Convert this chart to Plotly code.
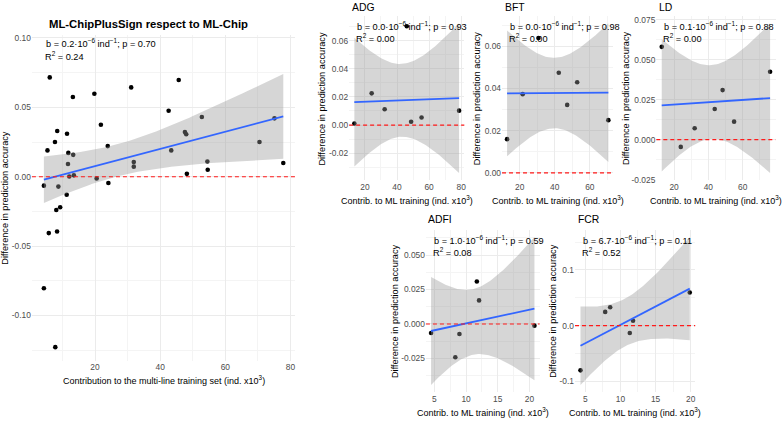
import numpy as np
import plotly.graph_objects as go

# ---------------- data ----------------
main_x = [4.3, 5.4, 6.1, 7.7, 8.4, 8.75, 8.1, 9.3, 11.4, 11.8, 11.7, 12.1, 11.3, 13.2,
          13.3, 13.5, 19.8, 20.5, 21.8, 23.9, 24.1, 31.1, 31.9, 31.9, 42.6, 43.4, 45.7,
          47.6, 48.0, 48.2, 52.8, 54.5, 54.6, 70.5, 75.1, 77.8, 5.8, 8.35, 4.3, 7.8]
main_y = [-0.0064, 0.019, 0.0716, 0.025, 0.033, -0.0071, -0.024, -0.022, 0.031, 0.0172,
          0.0092, 0.0002, -0.013, 0.0575, 0.0158, 0.001, 0.0598, -0.0012, 0.0375, 0.0221,
          -0.0045, 0.0644, 0.0106, 0.0073, 0.0476, 0.019, 0.0697, 0.0322, 0.0306, 0.0021,
          0.0431, 0.011, 0.005, 0.025, 0.0421, 0.0099, -0.0406, -0.0394, -0.0804, -0.1228]

adg_x = [13.4, 24.2, 32.3, 46.1, 48.8, 55.3, 78.7]
adg_y = [0.0011, 0.0225, 0.0112, 0.0702, 0.0023, 0.0053, 0.0102]

bft_x = [12.8, 21.7, 30.7, 42.3, 47.1, 52.8, 70.6]
bft_y = [0.016, 0.0373, 0.0639, 0.0474, 0.0322, 0.0429, 0.025]

ld_x = [12.8, 23.9, 32.0, 43.7, 48.3, 55.0, 76.0]
ld_y = [0.058, -0.0045, 0.0072, 0.0192, 0.031, 0.0113, 0.0425]

adfi_x = [4.47, 8.3, 8.95, 11.7, 12.05, 20.8]
adfi_y = [-0.0066, -0.0242, -0.0073, 0.0308, 0.0171, -0.0012]

fcr_x = [4.33, 7.84, 8.55, 11.34, 11.8, 19.86]
fcr_y = [-0.0803, 0.0246, 0.0329, -0.0134, 0.0088, 0.0593]

ref_value = 0.0

titles = ["ML-ChipPlusSign respect to ML-Chip", "ADG", "BFT", "LD", "ADFI", "FCR"]
stat_line1 = ["b = 0.2·10<sup>−6</sup> ind<sup>−1</sup>; p = 0.70",
              "b = 0.0·10<sup>−6</sup> ind<sup>−1</sup>; p = 0.93",
              "b = 0.0·10<sup>−6</sup> ind<sup>−1</sup>; p = 0.98",
              "b = 0.1·10<sup>−6</sup> ind<sup>−1</sup>; p = 0.88",
              "b = 1.0·10<sup>−6</sup> ind<sup>−1</sup>; p = 0.59",
              "b = 6.7·10<sup>−6</sup> ind<sup>−1</sup>; p = 0.11"]
stat_line2 = ["R<sup>2</sup> = 0.24", "R<sup>2</sup> = 0.00", "R<sup>2</sup> = 0.00",
              "R<sup>2</sup> = 0.00", "R<sup>2</sup> = 0.08", "R<sup>2</sup> = 0.52"]

main_xticks = [20, 40, 60, 80]
main_yticks = [-0.10, -0.05, 0.00, 0.05, 0.10]
main_yticklabels = ["-0.10", "-0.05", "0.00", "0.05", "0.10"]
adg_xticks = [20, 40, 60, 80]
adg_yticks = [-0.02, 0.00, 0.02, 0.04, 0.06]
adg_yticklabels = ["-0.02", "0.00", "0.02", "0.04", "0.06"]
bft_xticks = [20, 40, 60]
bft_yticks = [0.00, 0.02, 0.04, 0.06]
bft_yticklabels = ["0.00", "0.02", "0.04", "0.06"]
ld_xticks = [20, 40, 60]
ld_yticks = [-0.025, 0.0, 0.025, 0.05, 0.075]
ld_yticklabels = ["-0.025", "0.000", "0.025", "0.050", "0.075"]
adfi_xticks = [5, 10, 15, 20]
adfi_yticks = [-0.025, 0.0, 0.025, 0.05]
adfi_yticklabels = ["-0.025", "0.000", "0.025", "0.050"]
fcr_xticks = [5, 10, 15, 20]
fcr_yticks = [-0.1, 0.0, 0.1]
fcr_yticklabels = ["-0.1", "0.0", "0.1"]

main_xlabel = "Contribution to the multi-line training set (ind. x10<sup>3</sup>)"
small_xlabel = "Contrib. to ML training (ind. x10<sup>3</sup>)"
ylabel = "Difference in prediction accuracy"

# t critical values (97.5%) by degrees of freedom
T975 = {4: 2.776445, 5: 2.570582, 38: 2.024394}

W, H = 784, 421
FONT = "Liberation Sans, Arial, sans-serif"


def px_x(p):
    return p / W


def px_y(p):
    return 1 - p / H


def lm_fit(x, y, n_pts=80):
    x = np.asarray(x, float)
    y = np.asarray(y, float)
    n = len(x)
    A = np.vstack([np.ones(n), x]).T
    coef, *_ = np.linalg.lstsq(A, y, rcond=None)
    resid = y - A @ coef
    s = np.sqrt(np.sum(resid ** 2) / (n - 2))
    xs = np.linspace(x.min(), x.max(), n_pts)
    sxx = np.sum((x - x.mean()) ** 2)
    se = s * np.sqrt(1.0 / n + (xs - x.mean()) ** 2 / sxx)
    fit = coef[0] + coef[1] * xs
    t = T975[n - 2]
    return xs, fit, fit - t * se, fit + t * se


def expand(lo, hi, mult=0.05):
    d = (hi - lo) * mult
    return [lo - d, hi + d]


# panel geometry (pixels): x0, x1, y0(top), y1(bottom)
panels = [
    dict(x=main_x, y=main_y, px=(32, 296, 33, 364), xt=main_xticks, yt=main_yticks,
         ytl=main_yticklabels, xlab=main_xlabel, ytitle_x=5, ymax=0.1025),
    dict(x=adg_x, y=adg_y, px=(350, 465.5, 14, 181), xt=adg_xticks, yt=adg_yticks,
         ytl=adg_yticklabels, xlab=small_xlabel, ytitle_x=323.3),
    dict(x=bft_x, y=bft_y, px=(503.3, 615, 14, 181), xt=bft_xticks, yt=bft_yticks,
         ytl=bft_yticklabels, xlab=small_xlabel, ytitle_x=478.3),
    dict(x=ld_x, y=ld_y, px=(658, 777.5, 14, 181), xt=ld_xticks, yt=ld_yticks,
         ytl=ld_yticklabels, xlab=small_xlabel, ytitle_x=627.5),
    dict(x=adfi_x, y=adfi_y, px=(427, 541, 231, 396), xt=adfi_xticks, yt=adfi_yticks,
         ytl=adfi_yticklabels, xlab=small_xlabel, ytitle_x=396),
    dict(x=fcr_x, y=fcr_y, px=(576.5, 697, 231, 396), xt=fcr_xticks, yt=fcr_yticks,
         ytl=fcr_yticklabels, xlab=small_xlabel, ytitle_x=554.2),
]

fig = go.Figure()
layout = dict(width=W, height=H, margin=dict(l=0, r=0, t=0, b=0),
              paper_bgcolor="white", plot_bgcolor="white", showlegend=False,
              font=dict(family=FONT, color="black"), hovermode=False)
annotations = []
shapes = []

GRID = "#EBEBEB"
MINOR = "#F4F4F4"
TICKFONT = dict(family=FONT, size=8.4, color="#4D4D4D")


def minor_vals(ticks):
    t = list(ticks)
    step = t[1] - t[0]
    vals = [t[0] - step / 2] + [(a + b) / 2 for a, b in zip(t[:-1], t[1:])] + [t[-1] + step / 2]
    return vals


for i, p in enumerate(panels):
    k = "" if i == 0 else str(i + 1)
    xa, ya = "x" + k, "y" + k
    xs, fit, lo, hi = lm_fit(p["x"], p["y"])
    xr = expand(min(p["x"]), max(p["x"]))
    ylo = min(min(p["y"]), lo.min(), ref_value)
    yhi = max(max(p["y"]), hi.max(), ref_value)
    yr = expand(ylo, yhi)
    if "ymax" in p:
        yr[1] = p["ymax"]

    fig.add_trace(go.Scatter(x=p["x"], y=p["y"], mode="markers", xaxis=xa, yaxis=ya,
                             marker=dict(color="black", size=4.6), hoverinfo="skip"))
    fig.add_trace(go.Scatter(x=np.concatenate([xs, xs[::-1]]),
                             y=np.concatenate([hi, lo[::-1]]),
                             fill="toself", fillcolor="rgba(153,153,153,0.4)",
                             line=dict(width=0), mode="lines", xaxis=xa, yaxis=ya,
                             hoverinfo="skip"))
    fig.add_trace(go.Scatter(x=xs, y=fit, mode="lines", xaxis=xa, yaxis=ya,
                             line=dict(color="#3366FF", width=1.8), hoverinfo="skip"))

    x0, x1, y0, y1 = p["px"]
    layout["xaxis" + k] = dict(
        domain=[px_x(x0), px_x(x1)], range=xr, anchor=ya, fixedrange=True,
        tickmode="array", tickvals=p["xt"], ticktext=[str(v) for v in p["xt"]],
        showgrid=True, gridcolor=GRID, gridwidth=1, zeroline=False, showline=False,
        ticks="", tickfont=TICKFONT,
        minor=dict(tickmode="array", tickvals=minor_vals(p["xt"]), showgrid=True,
                   gridcolor=MINOR, gridwidth=1, ticks=""))
    layout["yaxis" + k] = dict(
        domain=[px_y(y1), px_y(y0)], range=yr, anchor=xa, fixedrange=True,
        tickmode="array", tickvals=p["yt"], ticktext=p["ytl"],
        showgrid=True, gridcolor=GRID, gridwidth=1, zeroline=False, showline=False,
        ticks="", tickfont=TICKFONT,
        minor=dict(tickmode="array", tickvals=minor_vals(p["yt"]), showgrid=True,
                   gridcolor=MINOR, gridwidth=1, ticks=""))

    shapes.append(dict(type="line", xref=xa + " domain", x0=0, x1=1, yref=ya,
                       y0=ref_value, y1=ref_value,
                       line=dict(color="#FF1A1A", width=1.2, dash="4px,3px")))

    # stats text
    if i == 0:
        sx, sy1, sy2 = x0 + 12, y0 + 8.7, y0 + 21.3
    else:
        sx, sy1, sy2 = x0 + 6, y0 + 10.5, y0 + 22.2
    annotations.append(dict(text=stat_line1[i], x=px_x(sx), y=px_y(sy1), xref="paper",
                            yref="paper", xanchor="left", yanchor="middle", showarrow=False,
                            font=dict(family=FONT, size=9.2, color="black")))
    annotations.append(dict(text=stat_line2[i], x=px_x(sx - 1), y=px_y(sy2), xref="paper",
                            yref="paper", xanchor="left", yanchor="middle", showarrow=False,
                            font=dict(family=FONT, size=9.2, color="black")))

    # x-axis title
    annotations.append(dict(text=p["xlab"], x=px_x((x0 + x1) / 2), y=px_y(y1 + 19.5),
                            xref="paper", yref="paper", xanchor="center", yanchor="middle",
                            showarrow=False, font=dict(family=FONT, size=9.0, color="black")))
    # y-axis title
    annotations.append(dict(text=ylabel, x=px_x(p["ytitle_x"]), y=px_y((y0 + y1) / 2),
                            xref="paper", yref="paper", xanchor="center", yanchor="middle",
                            textangle=-90, showarrow=False,
                            font=dict(family=FONT, size=9.2, color="black")))
    # panel title
    if i == 0:
        annotations.append(dict(text="<b>" + titles[i] + "</b>", x=px_x(148.5), y=px_y(22.7),
                                xref="paper", yref="paper", xanchor="center",
                                yanchor="middle", showarrow=False,
                                font=dict(family=FONT, size=11.3, color="black")))
    else:
        ty = 6 if y0 < 100 else 221
        annotations.append(dict(text=titles[i], x=px_x(x0 + 0.5), y=px_y(ty),
                                xref="paper", yref="paper", xanchor="left",
                                yanchor="middle", showarrow=False,
                                font=dict(family=FONT, size=10.4, color="black")))

layout["annotations"] = annotations
layout["shapes"] = shapes
fig.update_layout(**layout)
fig.write_html("out.html", config={"displayModeBar": False, "staticPlot": True},
               post_script="document.body.style.margin='0';document.body.style.padding='0';")
